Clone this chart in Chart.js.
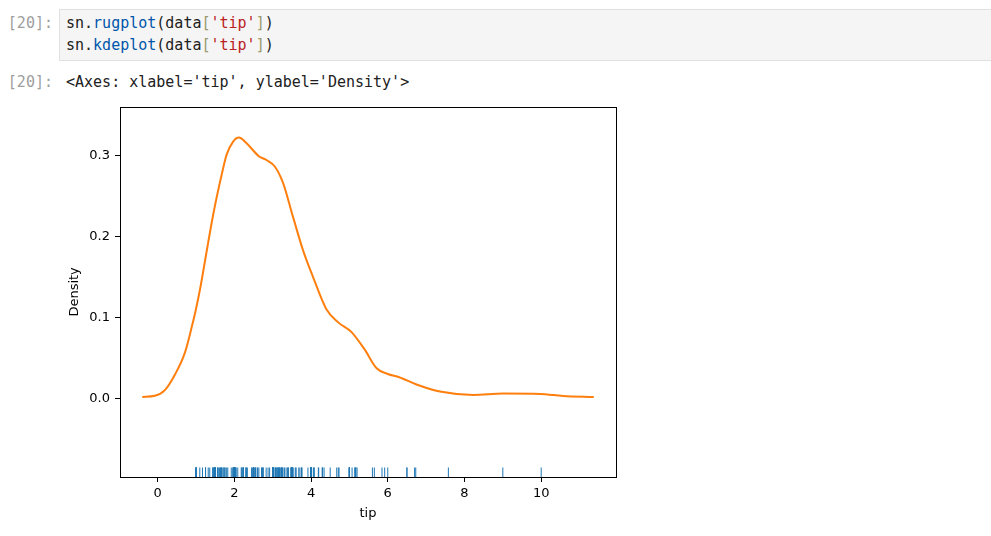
<!DOCTYPE html>
<html>
<head>
<meta charset="utf-8">
<script src="https://cdn.jsdelivr.net/npm/chart.js@4"></script>
<style>
  body { margin: 0; background: #fff; width: 991px; height: 536px; overflow: hidden; position: relative; }
  .mono { font-family: "DejaVu Sans Mono", monospace; font-size: 15px; line-height: 22px; white-space: pre; }
  .prompt { position: absolute; left: 0; width: 53px; text-align: right; color: #9e9e9e; }
  .cell { position: absolute; left: 59px; top: 9px; width: 931px; height: 50px; background: #f5f5f5; border: 1px solid #e0e0e0; }
  .code { position: absolute; left: 6px; top: 2px; color: #212121; }
  .kw { color: #0055aa; }
  .br { color: #9a9a6b; }
  .st { color: #ba2121; }
  .out { position: absolute; left: 66px; top: 71px; color: #212121; }
  #wrap { position: absolute; left: 40px; top: 94px; width: 600px; height: 442px; }
</style>
</head>
<body>
<div class="mono prompt" style="top:12px">[20]:</div>
<div class="cell"><div class="mono code">sn.<span class="kw">rugplot</span>(data<span class="br">[</span><span class="st">'tip'</span><span class="br">]</span>)
sn.<span class="kw">kdeplot</span>(data<span class="br">[</span><span class="st">'tip'</span><span class="br">]</span>)</div></div>
<div class="mono prompt" style="top:71px">[20]:</div>
<div class="mono out">&lt;Axes: xlabel='tip', ylabel='Density'&gt;</div>
<div id="wrap"><canvas id="c"></canvas></div>
<script>
// kde curve (tip, density)
const kdeX = [-0.40, -0.07, 0.19, 0.45, 0.71, 0.88, 1.00, 1.12, 1.23, 1.45, 1.67, 1.80, 1.97, 2.12, 2.32, 2.64, 2.85, 3.06, 3.27, 3.53, 3.79, 4.05, 4.40, 4.70, 5.05, 5.40, 5.71, 6.00, 6.30, 6.75, 7.36, 8.23, 9.01, 9.97, 10.57, 11.37];
const kdeY = [0.0016, 0.003, 0.010, 0.029, 0.056, 0.086, 0.110, 0.138, 0.168, 0.227, 0.276, 0.301, 0.317, 0.322, 0.315, 0.299, 0.294, 0.286, 0.266, 0.224, 0.183, 0.150, 0.110, 0.094, 0.082, 0.060, 0.037, 0.030, 0.026, 0.017, 0.0082, 0.0041, 0.0057, 0.0053, 0.0028, 0.0016];

// rug values (tips)
const tips = [1.01, 1.66, 3.5, 3.31, 3.61, 4.71, 2.0, 3.12, 1.96, 3.23, 1.71, 5.0, 1.57, 3.0, 3.02, 3.92, 1.67, 3.71, 3.5, 3.35,
  4.08, 2.75, 2.23, 7.58, 3.18, 2.34, 2.0, 2.0, 4.3, 3.0, 1.45, 2.5, 3.0, 2.45, 3.27, 3.6, 2.0, 3.07, 2.31, 5.0,
  2.24, 2.54, 3.06, 1.32, 5.6, 3.0, 5.0, 6.0, 2.05, 3.0, 2.5, 2.6, 5.2, 1.56, 4.34, 3.51, 3.0, 1.5, 1.76, 6.73,
  3.21, 2.0, 1.98, 3.76, 2.64, 3.15, 2.47, 1.0, 2.01, 2.09, 1.97, 3.0, 3.14, 5.0, 2.2, 1.25, 3.08, 4.0, 3.0, 2.71,
  3.0, 3.4, 1.83, 5.0, 2.03, 5.17, 2.0, 4.0, 5.85, 3.0, 3.0, 3.5, 1.0, 4.3, 3.25, 4.73, 4.0, 1.5, 3.0, 1.5,
  2.5, 3.0, 2.5, 3.48, 4.08, 1.64, 4.06, 4.29, 3.76, 4.0, 3.0, 1.0, 4.0, 2.55, 4.0, 3.5, 5.07, 1.5, 1.8, 2.92,
  2.31, 1.68, 2.5, 2.0, 2.52, 4.2, 1.48, 2.0, 2.0, 2.18, 1.5, 2.83, 1.5, 2.0, 3.25, 1.25, 2.0, 2.0, 2.0, 2.75,
  3.5, 6.7, 5.0, 5.0, 2.3, 1.5, 1.36, 1.63, 1.73, 2.0, 2.5, 2.0, 2.74, 2.0, 2.0, 5.14, 5.0, 3.75, 2.61, 2.0,
  3.5, 2.5, 2.0, 2.0, 3.0, 3.48, 2.24, 4.5, 1.61, 2.0, 10.0, 3.16, 5.15, 3.18, 4.0, 3.11, 2.0, 2.0, 4.0, 3.55,
  3.68, 5.65, 3.5, 6.5, 3.0, 5.0, 3.5, 2.0, 3.5, 4.0, 1.5, 4.19, 2.56, 2.02, 4.0, 1.44, 2.0, 5.0, 2.0, 2.0,
  4.0, 2.01, 2.0, 2.5, 4.0, 3.23, 3.41, 3.0, 2.03, 2.23, 2.0, 5.16, 9.0, 2.5, 6.5, 1.1, 3.0, 1.5, 1.44, 3.09,
  2.2, 3.48, 1.92, 3.0, 1.58, 2.5, 2.0, 3.0, 2.72, 2.88, 2.0, 3.0, 3.39, 1.47, 3.0, 1.25, 1.0, 1.17, 4.67, 5.92,
  2.0, 2.0, 1.75, 3.0];

const xTicks = [0, 2, 4, 6, 8, 10];
const yTicks = [0, 0.1, 0.2, 0.3];

const font = { family: 'DejaVu Sans', size: 13 };

const rugAndFrame = {
  id: 'rugAndFrame',
  afterDatasetsDraw(chart) {
    const { ctx, chartArea: a, scales } = chart;
    ctx.save();
    ctx.strokeStyle = '#1f77b4';
    ctx.lineWidth = 1;
    tips.forEach(v => {
      const px = scales.x.getPixelForValue(v);
      ctx.beginPath();
      ctx.moveTo(px, a.bottom);
      ctx.lineTo(px, a.bottom - 9.5);
      ctx.stroke();
    });
    ctx.strokeStyle = '#000';
    ctx.strokeRect(Math.round(a.left) + 0.5, Math.round(a.top) + 0.5, Math.round(a.right - a.left), Math.round(a.bottom - a.top));
    ctx.restore();
  }
};

new Chart(document.getElementById('c'), {
  type: 'line',
  data: {
    datasets: [{
      data: kdeX.map((x, i) => ({ x: x, y: kdeY[i] })),
      borderColor: '#ff7f0e',
      borderWidth: 2,
      pointRadius: 0,
      cubicInterpolationMode: 'monotone',
      fill: false
    }]
  },
  options: {
    responsive: true,
    maintainAspectRatio: false,
    animation: false,
    layout: { padding: { top: 1, right: 24, left: 0, bottom: 0 } },
    plugins: { legend: { display: false }, tooltip: { enabled: false } },
    scales: {
      x: {
        type: 'linear',
        min: -0.98,
        max: 11.95,
        afterBuildTicks: s => { s.ticks = xTicks.map(v => ({ value: v })); },
        afterFit: s => { s.height = 59; },
        grid: { display: true, drawOnChartArea: false, drawTicks: true, tickLength: 5, color: '#000' },
        border: { display: false },
        ticks: { color: '#000', font: font, padding: 4, maxRotation: 0 },
        title: { display: true, text: 'tip', color: '#000', font: font, padding: { top: 0, bottom: 15 } }
      },
      y: {
        min: -0.0973,
        max: 0.36,
        afterBuildTicks: s => { s.ticks = yTicks.map(v => ({ value: v })); },
        afterFit: s => { s.width = 80; },
        grid: { display: true, drawOnChartArea: false, drawTicks: true, tickLength: 5, color: '#000' },
        border: { display: false },
        ticks: { color: '#000', font: font, padding: 5, callback: v => v.toFixed(1) },
        title: { display: true, text: 'Density', color: '#000', font: font, padding: { top: 27, bottom: 0 } }
      }
    }
  },
  plugins: [rugAndFrame]
});
</script>
</body>
</html>
